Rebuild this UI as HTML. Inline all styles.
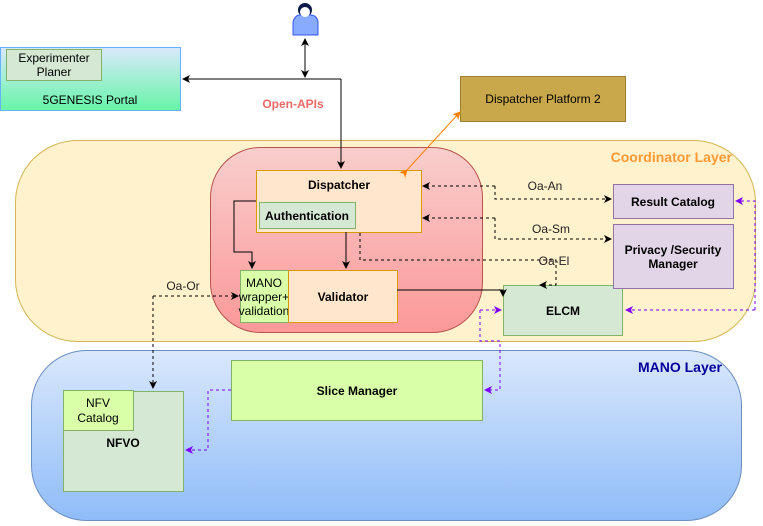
<!DOCTYPE html>
<html><head><meta charset="utf-8"><style>
body{margin:0;width:763px;height:521px;overflow:hidden;background:#fff;font-family:"Liberation Sans",sans-serif;}
</style></head><body>
<svg width="763" height="521" viewBox="0 0 763 521" xmlns="http://www.w3.org/2000/svg" font-family="Liberation Sans, sans-serif">
<defs>
<linearGradient id="gp" x1="0" y1="0" x2="0" y2="1"><stop offset="0" stop-color="#dae8fc"/><stop offset="1" stop-color="#66f5a8"/></linearGradient>
<linearGradient id="gr" x1="0" y1="0" x2="0" y2="1"><stop offset="0" stop-color="#f8cecc"/><stop offset="1" stop-color="#fb9898"/></linearGradient>
<linearGradient id="gb" x1="0" y1="0" x2="0" y2="1"><stop offset="0" stop-color="#dae8fc"/><stop offset="1" stop-color="#8fbcf8"/></linearGradient>
<marker id="a" markerWidth="8" markerHeight="8" refX="7" refY="4" orient="auto" markerUnits="userSpaceOnUse"><path d="M0,0 L8,4 L0,8 L2,4z" fill="#000"/></marker>
<marker id="ap" markerWidth="8" markerHeight="8" refX="7" refY="4" orient="auto" markerUnits="userSpaceOnUse"><path d="M0,0 L8,4 L0,8 L2,4z" fill="#7f00ff"/></marker>
<marker id="ao" markerWidth="8" markerHeight="8" refX="7" refY="4" orient="auto" markerUnits="userSpaceOnUse"><path d="M0,0 L8,4 L0,8 L2,4z" fill="#ff8000"/></marker>
<marker id="as" markerWidth="8" markerHeight="8" refX="1" refY="4" orient="auto" markerUnits="userSpaceOnUse"><path d="M8,0 L0,4 L8,8 L6,4z" fill="#000"/></marker>
</defs>
<rect x="15.5" y="140.5" width="740" height="201" rx="62" fill="#fff2cc" stroke="#d6b656"/>
<text x="732" y="162" text-anchor="end" font-size="14" font-weight="bold" fill="#ff9933">Coordinator Layer</text>
<rect x="31.5" y="350.5" width="710" height="170" rx="55" fill="url(#gb)" stroke="#6c8ebf"/>
<text x="722" y="372" text-anchor="end" font-size="14" font-weight="bold" fill="#000099">MANO Layer</text>
<rect x="210.5" y="147.5" width="272" height="185" rx="50" fill="url(#gr)" stroke="#b85450"/>
<rect x="0.5" y="47.5" width="180" height="63" fill="url(#gp)" stroke="#66b2ff"/>
<rect x="6.5" y="49.5" width="95" height="31" fill="#d5e8d4" stroke="#82b366"/>
<text x="54" y="62" text-anchor="middle" font-size="12">Experimenter</text>
<text x="54" y="76" text-anchor="middle" font-size="12">Planer</text>
<text x="90" y="104" text-anchor="middle" font-size="12">5GENESIS Portal</text>
<circle cx="305" cy="10" r="7" fill="#0a1a4a"/>
<path d="M293,35 L293,22 Q295,15 300,15 L310,15 Q317,15 318,22 L318,35z" fill="#88aaff" stroke="#3355ee"/>
<circle cx="305" cy="12" r="5" fill="#fff"/>
<rect x="460.5" y="76.5" width="165" height="45" fill="#c8a84b" stroke="#a08030"/>
<text x="543" y="103" text-anchor="middle" font-size="12">Dispatcher Platform 2</text>
<text x="293" y="108" text-anchor="middle" font-size="12" font-weight="bold" fill="#ea6b66">Open-APIs</text>
<rect x="256.5" y="170.5" width="165" height="62" fill="#ffe6cc" stroke="#d79b00"/>
<text x="339" y="189" text-anchor="middle" font-size="12" font-weight="bold">Dispatcher</text>
<rect x="259.5" y="202.5" width="96" height="26" fill="#d5e8d4" stroke="#82b366"/>
<text x="307" y="220" text-anchor="middle" font-size="12" font-weight="bold">Authentication</text>
<rect x="240.5" y="270.5" width="48" height="52" fill="#d9ffa8" stroke="#82b366"/>
<text x="264" y="287" text-anchor="middle" font-size="12">MANO</text>
<text x="264" y="301" text-anchor="middle" font-size="12">wrapper+</text>
<text x="264" y="315" text-anchor="middle" font-size="12">validation</text>
<rect x="288.5" y="270.5" width="109" height="52" fill="#ffe6cc" stroke="#d79b00"/>
<text x="343" y="301" text-anchor="middle" font-size="12" font-weight="bold">Validator</text>
<rect x="503.5" y="285.5" width="119" height="50" fill="#d5e8d4" stroke="#82b366"/>
<text x="563" y="315" text-anchor="middle" font-size="12" font-weight="bold">ELCM</text>
<rect x="613.5" y="184.5" width="120" height="34" fill="#e1d5e7" stroke="#9673a6"/>
<text x="673" y="206" text-anchor="middle" font-size="12" font-weight="bold">Result Catalog</text>
<rect x="613.5" y="224.5" width="120" height="64" fill="#e1d5e7" stroke="#9673a6"/>
<text x="673" y="254" text-anchor="middle" font-size="12" font-weight="bold">Privacy /Security</text>
<text x="673" y="268" text-anchor="middle" font-size="12" font-weight="bold">Manager</text>
<rect x="231.5" y="360.5" width="251" height="60" fill="#d9ffa8" stroke="#82b366"/>
<text x="357" y="395" text-anchor="middle" font-size="12" font-weight="bold">Slice Manager</text>
<rect x="63.5" y="391.5" width="120" height="100" fill="#d5e8d4" stroke="#82b366"/>
<rect x="63.5" y="390.5" width="70" height="40" fill="#d9ffa8" stroke="#82b366"/>
<text x="98" y="407" text-anchor="middle" font-size="12">NFV</text>
<text x="98" y="422" text-anchor="middle" font-size="12">Catalog</text>
<text x="123" y="447" text-anchor="middle" font-size="12" font-weight="bold">NFVO</text>
<g fill="none" stroke="#000" stroke-width="1">
<path d="M305,39 L305,77" marker-start="url(#as)" marker-end="url(#a)"/>
<path d="M341,79 L183,79" marker-end="url(#a)"/>
<path d="M341,79 L341,168" marker-end="url(#a)"/>
<path d="M256,201 L234,201 L234,252 L252,252 L252,268" marker-end="url(#a)"/>
<path d="M346,232 L346,268" marker-end="url(#a)"/>
<path d="M397,290 L503,290 L503,296" marker-end="url(#a)"/>
<g stroke-dasharray="3,3">
<path d="M495,186 L423,186" marker-end="url(#a)"/>
<path d="M495,186 L495,199 L611,199" marker-end="url(#a)"/>
<path d="M495,218 L423,218" marker-end="url(#a)"/>
<path d="M495,218 L495,239 L611,239" marker-end="url(#a)"/>
<path d="M360,233 L360,260 L556,260 L556,285 L540,285" marker-end="url(#a)"/>
<path d="M153,296 L238,296" marker-end="url(#a)"/>
<path d="M153,296 L153,388" marker-end="url(#a)"/>
</g>
</g>
<path d="M407,170 L460,112" stroke="#ff8000" fill="none" marker-start="url(#ao)" marker-end="url(#ao)"/>
<g fill="none" stroke="#7f00ff" stroke-dasharray="3,3">
<path d="M755,310 L626,310" marker-end="url(#ap)"/>
<path d="M755,310 L755,201 L736,201" marker-end="url(#ap)"/>
<path d="M480,310 L501,310" marker-end="url(#ap)"/>
<path d="M480,310 L480,341 L500,341 L500,390 L485,390" marker-end="url(#ap)"/>
<path d="M231,390 L208,390 L208,450 L186,450" marker-end="url(#ap)"/>
</g>
<g font-size="12" fill="#222">
<rect x="522" y="178" width="46" height="14" fill="#fff2cc"/>
<text x="545" y="190" text-anchor="middle">Oa-An</text>
<text x="551" y="233" text-anchor="middle">Oa-Sm</text>
<text x="554" y="265" text-anchor="middle">Oa-El</text>
<text x="183" y="290" text-anchor="middle">Oa-Or</text>
</g>
</svg>
</body></html>
